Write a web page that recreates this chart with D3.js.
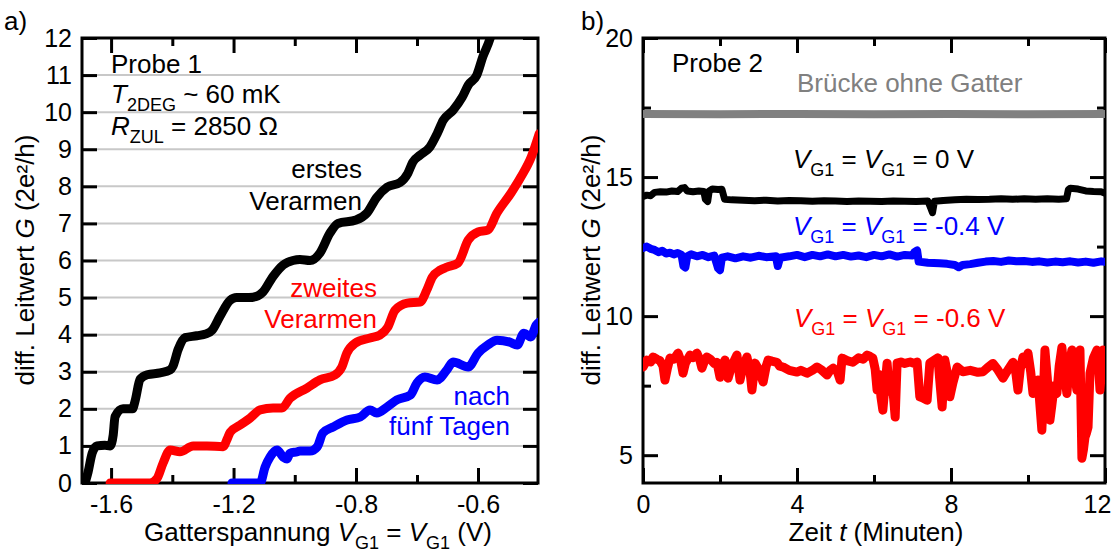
<!DOCTYPE html>
<html>
<head>
<meta charset="utf-8">
<script src="https://cdn.jsdelivr.net/npm/d3@7"></script>
<style>
html, body { margin: 0; padding: 0; background: #fff; }
svg { display: block; font-family: "Liberation Sans", Arial, Helvetica, sans-serif; }
</style>
</head>
<body>
<svg id="chart" width="1112" height="554"></svg>
<script>
// ---------- Panel a: conductance vs. gate voltage (units of 2e²/h) ----------
const sweepFirst = [
  [-1.685,0],[-1.675,0.3],[-1.662,0.8],[-1.646,1.0],[-1.62,1.02],[-1.603,1.0],[-1.593,1.3],[-1.587,1.79],
  [-1.561,2.0],[-1.53,2.0],[-1.522,2.2],[-1.505,2.8],[-1.482,2.92],[-1.44,2.97],[-1.407,3.05],[-1.398,3.15],
  [-1.381,3.6],[-1.358,3.92],[-1.32,3.97],[-1.29,4.02],[-1.27,4.12],[-1.244,4.5],[-1.211,4.93],[-1.19,5.0],
  [-1.15,5.0],[-1.12,5.05],[-1.104,5.15],[-1.071,5.57],[-1.038,5.88],[-1.006,6.0],[-0.983,6.03],[-0.95,6.0],
  [-0.918,6.2],[-0.885,6.74],[-0.859,7.0],[-0.80,7.09],[-0.782,7.28],[-0.766,7.7],[-0.749,7.98],[-0.728,8.1],
  [-0.715,8.35],[-0.707,8.65],[-0.695,8.84],[-0.679,9.06],[-0.667,9.42],[-0.657,9.78],[-0.641,10.05],
  [-0.626,10.4],[-0.616,10.73],[-0.602,11.0],[-0.592,11.5],[-0.58,12.0],[-0.575,12.3]
];
const sweepSecond = [
  [-1.603,0],[-1.473,0],[-1.45,0.12],[-1.43,0.54],[-1.407,0.89],[-1.375,0.84],[-1.332,1.0],[-1.287,1.0],
  [-1.234,0.98],[-1.22,1.2],[-1.211,1.37],[-1.179,1.56],[-1.146,1.75],[-1.113,1.97],[-1.071,2.02],[-1.042,2.02],
  [-1.016,2.28],[-0.96,2.56],[-0.918,2.78],[-0.869,2.91],[-0.846,3.13],[-0.83,3.5],[-0.803,3.77],[-0.777,3.91],
  [-0.761,3.99],[-0.748,4.2],[-0.736,4.66],[-0.716,4.85],[-0.695,4.88],[-0.684,5.2],[-0.675,5.55],[-0.662,5.74],
  [-0.651,5.82],[-0.633,5.93],[-0.616,6.55],[-0.6,6.77],[-0.584,6.82],[-0.569,7.28],[-0.546,7.82],[-0.53,8.25],
  [-0.513,8.79],[-0.5,9.42]
];
const sweepFiveDays = [
  [-1.205,0],[-1.113,0],[-1.097,0.43],[-1.081,0.7],[-1.058,0.89],[-1.038,0.7],[-1.025,0.65],[-1.016,0.8],
  [-0.993,0.84],[-0.983,0.86],[-0.95,0.86],[-0.927,0.97],[-0.908,1.35],[-0.875,1.51],[-0.829,1.7],[-0.793,1.78],
  [-0.777,1.97],[-0.766,1.89],[-0.749,2.05],[-0.733,2.24],[-0.711,2.37],[-0.7,2.7],[-0.687,2.86],[-0.667,2.78],
  [-0.651,3.05],[-0.641,3.26],[-0.616,3.13],[-0.6,3.5],[-0.584,3.72],[-0.569,3.85],[-0.548,3.8],[-0.536,3.72],
  [-0.525,4.04],[-0.514,3.94],[-0.505,4.26],[-0.5,4.34]
];
// gate axis is drawn piecewise between these break values
const gateBreaks = [-1.695, -0.8, -0.6, -0.502];
const gateTicksMajor = [-1.6, -1.2, -0.8, -0.6];
const gateTicksMinor = [-1.4, -1.0, -0.7];
const condTicksA = [0,1,2,3,4,5,6,7,8,9,10,11,12];
const gridLinesA = [1,2,3,4,5,6,7,8,9,10,11];

// ---------- Panel b: conductance vs. time ----------
const bridgeNoGate = [[0,17.27],[2,17.26],[4,17.27],[6,17.26],[8,17.27],[10,17.26],[12,17.27]];
const traceGate0 = [
  [0,14.3],[0.1,14.35],[0.2,14.33],[0.3,14.45],[0.45,14.47],[0.6,14.46],[0.75,14.5],[0.9,14.48],[1.0,14.6],
  [1.08,14.62],[1.15,14.5],[1.3,14.47],[1.45,14.5],[1.58,14.48],[1.62,14.2],[1.68,14.12],[1.72,14.5],[1.8,14.57],
  [1.95,14.55],[2.05,14.56],[2.12,14.2],[2.3,14.18],[2.6,14.17],[2.9,14.15],[3.2,14.17],[3.5,14.14],[3.8,14.16],
  [4.1,14.15],[4.4,14.13],[4.7,14.15],[5.0,14.14],[5.3,14.12],[5.6,14.14],[5.9,14.13],[6.2,14.12],[6.5,14.14],
  [6.8,14.13],[7.1,14.12],[7.4,14.14],[7.47,13.9],[7.52,13.72],[7.57,14.13],[7.8,14.16],[8.1,14.18],[8.4,14.2],
  [8.7,14.19],[9.0,14.2],[9.3,14.22],[9.6,14.2],[9.9,14.22],[10.2,14.2],[10.5,14.22],[10.8,14.2],[11.0,14.22],
  [11.05,14.55],[11.1,14.6],[11.3,14.57],[11.5,14.5],[11.7,14.48],[11.9,14.47],[12,14.42]
];
const traceGate04 = [
  [0,12.45],[0.1,12.5],[0.2,12.42],[0.3,12.38],[0.4,12.3],[0.5,12.35],[0.6,12.25],[0.7,12.28],[0.8,12.22],
  [0.9,12.27],[1.0,12.2],[1.05,11.8],[1.1,11.75],[1.15,12.15],[1.25,12.22],[1.4,12.15],[1.55,12.2],[1.7,12.12],
  [1.85,12.18],[1.95,11.72],[2.0,11.65],[2.05,12.1],[2.2,12.15],[2.4,12.08],[2.6,12.15],[2.8,12.1],[3.0,12.17],
  [3.2,12.12],[3.45,12.15],[3.5,11.8],[3.56,12.1],[3.8,12.15],[4.0,12.2],[4.2,12.12],[4.4,12.2],[4.6,12.15],
  [4.8,12.22],[5.0,12.15],[5.2,12.2],[5.4,12.14],[5.6,12.18],[5.8,12.12],[6.0,12.2],[6.2,12.15],[6.4,12.22],
  [6.6,12.14],[6.8,12.2],[7.0,12.18],[7.05,12.3],[7.12,12.36],[7.16,11.96],[7.4,11.92],[7.7,11.9],[7.9,11.88],
  [8.1,11.84],[8.2,11.76],[8.3,11.84],[8.5,11.87],[8.7,11.92],[8.9,11.96],[9.1,11.98],[9.3,11.95],[9.5,12.0],
  [9.7,11.97],[9.9,11.98],[10.1,11.95],[10.3,11.97],[10.5,11.93],[10.7,11.96],[10.9,11.94],[11.1,11.97],
  [11.3,11.93],[11.5,11.96],[11.7,11.92],[11.9,11.97],[12,11.95]
];
const traceGate06 = [
  [0,8.17],[0.1,8.42],[0.2,8.35],[0.26,8.53],[0.36,8.45],[0.44,8.4],[0.52,8.2],[0.57,7.7],[0.63,8.1],[0.7,8.49],
  [0.8,8.45],[0.91,8.67],[0.98,8.4],[1.04,7.95],[1.1,8.3],[1.22,8.6],[1.3,8.5],[1.4,8.67],[1.47,8.45],[1.53,8.13],
  [1.6,8.4],[1.66,8.53],[1.75,8.45],[1.85,8.3],[1.92,8.34],[2.0,7.8],[2.06,8.2],[2.13,8.42],[2.21,7.77],[2.3,8.2],
  [2.44,8.6],[2.52,7.7],[2.6,8.2],[2.7,8.53],[2.78,8.0],[2.83,7.34],[2.91,8.31],[3.0,8.1],[3.12,7.63],[3.2,8.2],
  [3.25,8.42],[3.35,8.38],[3.48,8.34],[3.55,8.2],[3.64,8.17],[3.8,8.05],[4.0,7.99],[4.1,8.05],[4.26,7.95],
  [4.4,8.05],[4.52,8.17],[4.65,8.05],[4.78,7.88],[4.86,8.05],[4.94,8.13],[5.05,8.0],[5.12,7.7],[5.17,8.49],
  [5.3,8.4],[5.45,8.34],[5.6,8.5],[5.72,8.45],[5.82,8.6],[5.9,8.55],[5.97,8.49],[6.03,8.1],[6.08,7.34],[6.13,7.9],
  [6.18,7.1],[6.23,6.62],[6.28,7.4],[6.34,8.31],[6.4,7.3],[6.47,7.7],[6.55,6.37],[6.6,8.31],[6.7,8.35],[6.8,8.3],
  [6.94,8.35],[7.05,8.3],[7.12,8.35],[7.19,7.1],[7.28,7.05],[7.38,6.98],[7.45,8.31],[7.55,8.4],[7.66,8.5],
  [7.72,7.5],[7.77,6.73],[7.84,8.42],[7.9,8.0],[7.97,7.1],[8.05,7.6],[8.16,8.17],[8.31,8.0],[8.5,8.05],[8.7,7.98],
  [8.83,8.0],[8.95,8.15],[9.09,8.3],[9.2,8.1],[9.35,7.77],[9.45,8.0],[9.61,8.34],[9.68,8.0],[9.74,7.34],[9.8,8.1],
  [9.87,8.53],[9.93,8.3],[10.0,8.67],[10.07,8.0],[10.13,7.22],[10.2,7.6],[10.26,7.7],[10.31,6.8],[10.36,5.9],
  [10.4,7.2],[10.44,8.78],[10.5,7.8],[10.57,6.26],[10.62,6.8],[10.68,7.5],[10.75,7.22],[10.81,8.2],[10.88,8.88],
  [10.94,8.0],[11.01,7.22],[11.07,8.2],[11.14,8.78],[11.2,8.0],[11.27,7.34],[11.31,8.3],[11.35,8.78],[11.38,6.5],
  [11.4,4.89],[11.44,5.2],[11.48,5.65],[11.52,5.8],[11.56,6.01],[11.61,7.95],[11.7,8.5],[11.79,8.78],[11.84,8.0],
  [11.87,7.34],[11.92,8.3],[11.95,8.78],[12,7.8]
];
const timeTicksMajor = [0, 4, 8, 12];
const timeTicksMinor = [2, 6, 10];
const condTicksBMajor = [5, 10, 15, 20];
const condTicksBMinor = [7.5, 12.5, 17.5];

// ---------- drawing ----------
const svg = d3.select("#chart");
const FONT = 26, TICKFONT = 25, SUBFONT = 18;

// writes a run of text parts; sub parts are lowered and smaller, it parts are italic
function richText(g, x, y, parts, opts = {}) {
  const t = g.append("text").attr("x", x).attr("y", y)
    .attr("font-size", opts.size || FONT)
    .attr("fill", opts.fill || "#000")
    .attr("text-anchor", opts.anchor || "start");
  if (opts.transform) t.attr("transform", opts.transform);
  let shift = 0;
  parts.forEach(p => {
    const target = p.sub ? 8 : 0;
    const s = t.append("tspan").text(p.t);
    if (target !== shift) { s.attr("dy", target - shift); shift = target; }
    if (p.sub) s.attr("font-size", SUBFONT);
    if (p.it) s.attr("font-style", "italic");
  });
  return t;
}

function frameAxes(g, x, y, box, ticks) {
  const { L, R, T, B } = box;
  const styleAxis = sel => {
    sel.select(".domain").remove();
    sel.selectAll(".tick line").attr("stroke", "#000").attr("stroke-width", 3);
    sel.selectAll(".tick text").attr("font-size", TICKFONT).attr("fill", "#000")
      .attr("font-family", "Liberation Sans, Arial, sans-serif");
  };
  const bottom = g.append("g").attr("transform", `translate(0,${B})`)
    .call(d3.axisBottom(x).tickValues(ticks.xMajor).tickSize(-15).tickPadding(12).tickFormat(ticks.xFmt))
    .call(styleAxis);
  g.append("g").attr("transform", `translate(0,${B})`)
    .call(d3.axisBottom(x).tickValues(ticks.xMinor).tickSize(-8).tickFormat(""))
    .call(styleAxis);
  g.append("g").attr("transform", `translate(0,${T})`)
    .call(d3.axisTop(x).tickValues(ticks.xMajor).tickSize(-15).tickFormat(""))
    .call(styleAxis);
  g.append("g").attr("transform", `translate(0,${T})`)
    .call(d3.axisTop(x).tickValues(ticks.xMinor).tickSize(-8).tickFormat(""))
    .call(styleAxis);
  g.append("g").attr("transform", `translate(${L},0)`)
    .call(d3.axisLeft(y).tickValues(ticks.yMajor).tickSize(-15).tickPadding(10).tickFormat(ticks.yFmt))
    .call(styleAxis);
  if (ticks.yMinor.length)
    g.append("g").attr("transform", `translate(${L},0)`)
      .call(d3.axisLeft(y).tickValues(ticks.yMinor).tickSize(-8).tickFormat(""))
      .call(styleAxis);
  g.append("g").attr("transform", `translate(${R},0)`)
    .call(d3.axisRight(y).tickValues(ticks.yMajor).tickSize(-15).tickFormat(""))
    .call(styleAxis);
  if (ticks.yMinor.length)
    g.append("g").attr("transform", `translate(${R},0)`)
      .call(d3.axisRight(y).tickValues(ticks.yMinor).tickSize(-8).tickFormat(""))
      .call(styleAxis);
  g.append("rect").attr("x", L).attr("y", T).attr("width", R - L).attr("height", B - T)
    .attr("fill", "none").attr("stroke", "#000").attr("stroke-width", 3);
  return bottom;
}

// ----- panel a -----
{
  const box = { L: 82, R: 538, T: 38, B: 483 };
  const x = d3.scaleLinear().domain(gateBreaks).range([box.L, box.L + 274, box.L + 396, box.R]);
  const y = d3.scaleLinear().domain([0, 12]).range([box.B, box.T]);
  const g = svg.append("g");

  g.append("clipPath").attr("id", "clipA").append("rect")
    .attr("x", box.L).attr("y", box.T).attr("width", box.R - box.L).attr("height", box.B - box.T + 1);

  g.append("g").selectAll("line").data(gridLinesA).join("line")
    .attr("x1", box.L).attr("x2", box.R).attr("y1", d => y(d)).attr("y2", d => y(d))
    .attr("stroke", "#c8c8c8").attr("stroke-width", 2);

  const hyphen = v => d3.format(".1f")(v).replace("−", "-");
  frameAxes(g, x, y, box, {
    xMajor: gateTicksMajor, xMinor: gateTicksMinor, xFmt: hyphen,
    yMajor: condTicksA, yMinor: [], yFmt: d3.format("d")
  });

  const line = d3.line().x(d => x(d[0])).y(d => y(d[1])).curve(d3.curveMonotoneX);
  const curves = g.append("g").attr("clip-path", "url(#clipA)");
  [[sweepFirst, "#000"], [sweepSecond, "#ff0000"], [sweepFiveDays, "#0000ff"]].forEach(([d, c]) => {
    curves.append("path").datum(d).attr("d", line).attr("fill", "none").attr("stroke", c)
      .attr("stroke-width", 9).attr("stroke-linejoin", "round").attr("stroke-linecap", "round");
  });

  richText(g, 111, 73, [{ t: "Probe 1" }]);
  richText(g, 111, 103, [{ t: "T", it: true }, { t: "2DEG", sub: true }, { t: " ~ 60 mK" }]);
  richText(g, 111, 135, [{ t: "R", it: true }, { t: "ZUL", sub: true }, { t: " = 2850 Ω" }]);
  richText(g, 362, 178, [{ t: "erstes" }], { anchor: "end" });
  richText(g, 362, 210, [{ t: "Verarmen" }], { anchor: "end" });
  richText(g, 377, 297, [{ t: "zweites" }], { anchor: "end", fill: "#ff0000" });
  richText(g, 377, 328, [{ t: "Verarmen" }], { anchor: "end", fill: "#ff0000" });
  richText(g, 510, 405, [{ t: "nach" }], { anchor: "end", fill: "#0000ff" });
  richText(g, 510, 435, [{ t: "fünf Tagen" }], { anchor: "end", fill: "#0000ff" });

  richText(g, 318, 541, [{ t: "Gatterspannung " }, { t: "V", it: true }, { t: "G1", sub: true },
    { t: " = " }, { t: "V", it: true }, { t: "G1", sub: true }, { t: " (V)" }], { anchor: "middle" });
  richText(g, 0, 0, [{ t: "diff. Leitwert " }, { t: "G", it: true }, { t: " (2e²/h)" }],
    { anchor: "middle", transform: "translate(34,260) rotate(-90)" });
  richText(g, 4, 30, [{ t: "a)" }]);
}

// ----- panel b -----
{
  const box = { L: 643, R: 1105, T: 38, B: 483 };
  const x = d3.scaleLinear().domain([0, 12]).range([box.L, box.R]);
  const y = d3.scaleLinear().domain([4, 20]).range([box.B, box.T]);
  const g = svg.append("g");

  g.append("clipPath").attr("id", "clipB").append("rect")
    .attr("x", box.L).attr("y", box.T).attr("width", box.R - box.L).attr("height", box.B - box.T);

  const bottom = frameAxes(g, x, y, box, {
    xMajor: timeTicksMajor, xMinor: timeTicksMinor, xFmt: d3.format("d"),
    yMajor: condTicksBMajor, yMinor: condTicksBMinor, yFmt: d3.format("d")
  });
  // the last time label sits slightly inside so it stays within the figure
  bottom.selectAll(".tick").filter(d => d === x.domain()[1]).select("text").attr("x", -8);

  const line = d3.line().x(d => x(d[0])).y(d => y(d[1]));
  const curves = g.append("g").attr("clip-path", "url(#clipB)");
  [[bridgeNoGate, "#808080", 8], [traceGate0, "#000", 7], [traceGate04, "#0000ff", 8], [traceGate06, "#ff0000", 9]]
    .forEach(([d, c, w]) => {
      curves.append("path").datum(d).attr("d", line).attr("fill", "none").attr("stroke", c)
        .attr("stroke-width", w).attr("stroke-linejoin", "round").attr("stroke-linecap", "round");
    });

  richText(g, 672, 72, [{ t: "Probe 2" }]);
  richText(g, 797, 92, [{ t: "Brücke ohne Gatter" }], { fill: "#808080" });
  const gateLabel = v => [{ t: "V", it: true }, { t: "G1", sub: true }, { t: " = " },
    { t: "V", it: true }, { t: "G1", sub: true }, { t: " = " + v + " V" }];
  richText(g, 793, 168, gateLabel("0"));
  richText(g, 793, 235, gateLabel("-0.4"), { fill: "#0000ff" });
  richText(g, 794, 327, gateLabel("-0.6"), { fill: "#ff0000" });

  richText(g, 876, 541, [{ t: "Zeit " }, { t: "t", it: true }, { t: " (Minuten)" }], { anchor: "middle" });
  richText(g, 0, 0, [{ t: "diff. Leitwert " }, { t: "G", it: true }, { t: " (2e²/h)" }],
    { anchor: "middle", transform: "translate(600,260) rotate(-90)" });
  richText(g, 581, 30, [{ t: "b)" }]);
}
</script>
</body>
</html>
